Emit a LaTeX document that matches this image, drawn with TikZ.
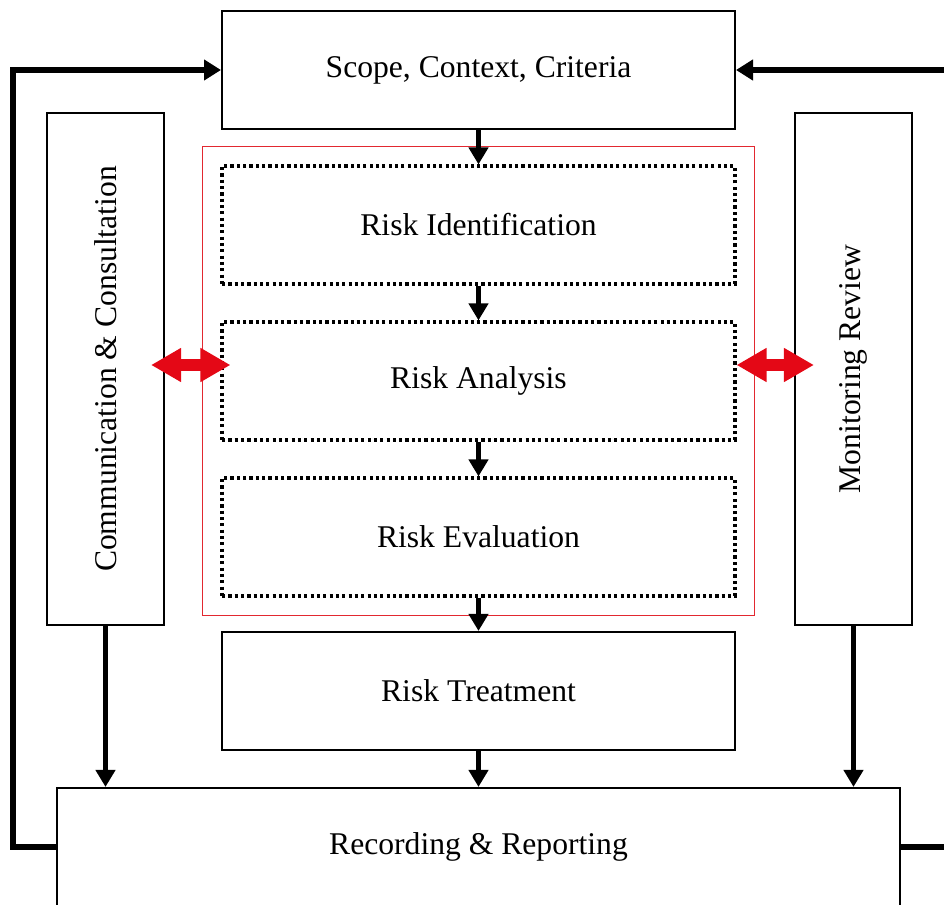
\documentclass[tikz,border=0pt]{standalone}
\usepackage{fontspec}
\setmainfont{Liberation Serif}
\usetikzlibrary{arrows.meta,positioning,calc,fit}
\definecolor{framered}{RGB}{226,40,48}
\definecolor{arrowred}{RGB}{228,8,22}

\begin{document}
\begin{tikzpicture}[x=0.02cm, y=-0.02cm]
    \tikzset{
        block/.style={draw, line width=1.2pt, rectangle, minimum width=10.26cm, minimum height=2.36cm, inner sep=0pt, align=center, font=\fontsize{18}{21}\selectfont},
        dotblock/.style={block, line width=1.8pt, dash pattern=on 1.8pt off 1.8pt},
        sideblock/.style={block, minimum width=2.34cm, minimum height=10.24cm},
        redframe/.style={draw=framered, line width=0.9pt, rectangle, inner sep=0.36cm},
        flow/.style={draw, line width=2.6pt, -{Triangle[length=0.34cm, width=0.38cm]}},
        feedback/.style={draw, line width=3pt, -{Triangle[length=0.34cm, width=0.4cm]}},
        biarrow/.style={draw=arrowred, line width=0.26cm, {Triangle[length=0.6cm, width=0.64cm]}-{Triangle[length=0.6cm, width=0.64cm]}}
    }
    \useasboundingbox (0,0) rectangle (944,905);

    % Main column
    \node[block] (scope) at (478.5,70) {Scope, Context, Criteria};
    \node[dotblock] (ident) at (478.5,225) {Risk Identification};
    \node[dotblock] (analysis) at (478.5,381) {Risk Analysis};
    \node[dotblock] (eval) at (478.5,537) {Risk Evaluation};
    \node[block] (treat) at (478.5,691) {Risk Treatment};
    \node[block, minimum width=16.86cm] (record) at (478.5,847) {Recording \& Reporting};
    \node[redframe, fit=(ident)(eval)] (assess) {};

    % Side columns
    \node[sideblock] (comm) at (105.5,369) {\rotatebox{90}{Communication \& Consultation}};
    \node[sideblock] (monitor) at (853.5,369) {\rotatebox{90}{Monitoring Review}};

    % Flow connections
    \path[flow] (scope) -- (ident);
    \path[flow] (ident) -- (analysis);
    \path[flow] (analysis) -- (eval);
    \path[flow] (eval) -- (treat);
    \path[flow] (treat) -- (record);
    \path[flow] (comm) -- (comm |- record.north);
    \path[flow] (monitor) -- (monitor |- record.north);

    % Feedback loops
    \path[feedback] (record.west) -- ++(-43,0) |- (scope.west);
    \path[feedback] (record.east) -- ++(47,0) |- (scope.east);

    % Exchange arrows
    \path[biarrow] ($(comm.east |- analysis.west)+(-0.28cm,0.32cm)$) -- ($(analysis.west)+(0.2cm,0.32cm)$);
    \path[biarrow] ($(analysis.east)+(0,0.32cm)$) -- ($(monitor.west |- analysis.east)+(0.4cm,0.32cm)$);
\end{tikzpicture}
\end{document}
